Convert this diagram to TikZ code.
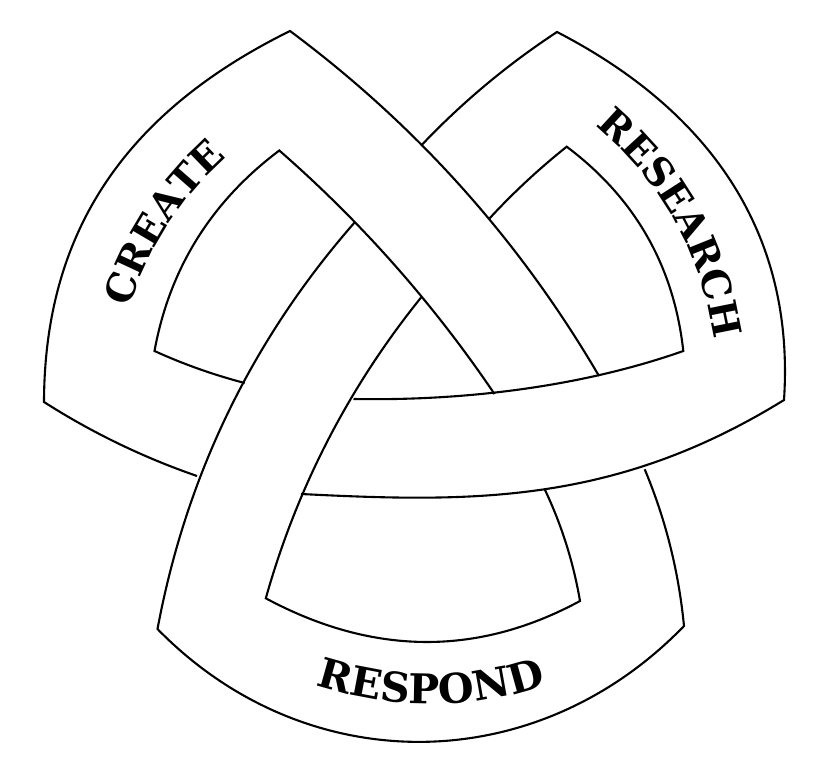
\documentclass[tikz,border=0pt]{standalone}
\usepackage{fontspec}
\usetikzlibrary{calc,decorations.text}
\newcommand\qs[3]{.. controls ($(#1)!0.6667!(#2)$) and ($(#3)!0.6667!(#2)$) .. (#3)}
\newfontfamily\labelfont[BoldFont={DejaVu Serif Bold}]{DejaVu Serif}
\tikzset{
  edge/.style={draw=black,line width=2.1pt,line join=miter,line cap=butt},
  curvelabel/.style n args={2}{decorate,decoration={text along path,text align=center,text={|\labelfont\bfseries\fontsize{#1}{#1}\selectfont|#2}}}
}
\begin{document}
\begin{tikzpicture}[x=1pt,y=-1pt]
\useasboundingbox[fill=white] (0,0) rectangle (820,770);
% CREATE ribbon
\draw[edge] (197,476) \qs{197,476}{116,448}{44,402} .. controls (44.5,225) and (132,109) .. (290,31) \qs{290,31}{479.7,172.1}{599,376};
\draw[edge] (244.7,383) \qs{244.7,383}{198,370.8}{154.5,351} \qs{154.5,351}{177.1,227.25}{279.3,150.5} \qs{279.3,150.5}{402.6,258.2}{494.5,394};
% RESEARCH ribbon
\draw[edge] (421.7,145) \qs{421.7,145}{482.8,80.7}{557,32} .. controls (712,112) and (795,235) .. (784,400) .. controls (614,505) and (471,502.5) .. (301,494);
\draw[edge] (489,219) \qs{489,219}{525,179.9}{566.7,146.7} \qs{566.7,146.7}{669.2,223.6}{683.3,351} .. controls (581,387) and (463.5,401) .. (353.5,399);
% RESPOND ribbon
\draw[edge] (355,222) \qs{355,222}{200.7,398}{157.5,629} .. controls (305,780) and (535,780) .. (684,626) \qs{684,626}{676,544}{644.7,469.3};
\draw[edge] (421.7,296.7) \qs{421.7,296.7}{312.8,431.5}{265.8,598.3} \qs{265.8,598.3}{426,684.3}{580,601} \qs{580,601}{570,542.6}{544.7,489.3};
% labels
\path[curvelabel={39}{CREATE}] (124.5,327) \qs{124.5,327}{151,217}{242,144};
\path[curvelabel={39}{RESEARCH}] (571,107) \qs{571,107}{705,204}{718,370};
\path[curvelabel={41}{RESPOND}] (301,680) \qs{301,680}{431,728}{561,680};
\end{tikzpicture}
\end{document}
